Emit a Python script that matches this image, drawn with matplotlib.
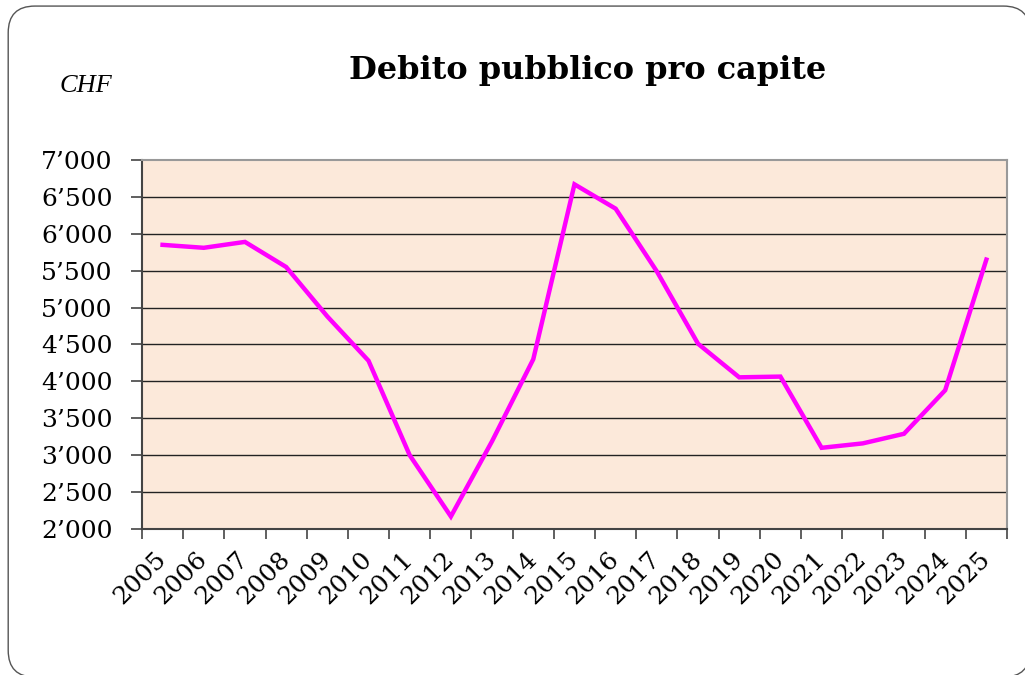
import matplotlib
matplotlib.use("Agg")
import matplotlib.pyplot as plt
from matplotlib.patches import FancyBboxPatch
from matplotlib.ticker import FuncFormatter
import numpy as np

years = [str(y) for y in range(2005, 2026)]
debt_per_capita = [5850, 5810, 5890, 5550, 4880, 4280, 3000, 2170, 3190, 4300,
                   6670, 6340, 5490, 4510, 4055, 4065, 3100, 3160, 3290, 3880, 5650]
y_ticks = list(range(2000, 7001, 500))

fig = plt.figure(figsize=(10.25, 6.75), dpi=100)

# rounded frame round the whole chart (right and bottom edges run off the picture)
frame = FancyBboxPatch((0.008, -0.003), 0.997, 0.994,
                       boxstyle="round,pad=0,rounding_size=0.026",
                       transform=fig.transFigure, facecolor="white",
                       edgecolor="#555555", linewidth=1.0, zorder=-1,
                       mutation_aspect=1025 / 675)
fig.patches.append(frame)

ax = fig.add_axes([0.1385, 0.2163, 0.8439, 0.5467])
ax.set_facecolor("#fce9da")

x = np.arange(len(years))
ax.plot(x, debt_per_capita, color="#ff00ff", linewidth=3.2, solid_joinstyle="miter", zorder=3)

ax.set_xlim(-0.5, len(years) - 0.5)
ax.set_ylim(2000, 7000)

ax.set_yticks(y_ticks)
ax.yaxis.set_major_formatter(FuncFormatter(lambda v, p: f"{int(v):,}".replace(",", "\u2019")))
for v in y_ticks[1:-1]:
    ax.axhline(v, color="#222222", linewidth=1.0, zorder=1)

ax.set_xticks(x)
ax.set_xticklabels(years, rotation=45, ha="right", va="center", rotation_mode="anchor")
ax.set_xticks(np.arange(-0.5, len(years)), minor=True)
ax.tick_params(axis="x", which="major", length=0, pad=19)
ax.tick_params(axis="x", which="minor", length=7, width=1.2, color="#444444", direction="out")
ax.tick_params(axis="y", length=8, width=1.2, color="#444444", pad=13)

for lab in ax.get_xticklabels() + ax.get_yticklabels():
    lab.set_fontfamily("DejaVu Serif")
    lab.set_fontsize(18)

ax.spines["left"].set_color("#444444")
ax.spines["bottom"].set_color("#444444")
ax.spines["left"].set_linewidth(1.5)
ax.spines["bottom"].set_linewidth(1.5)
ax.spines["top"].set_color("#999999")
ax.spines["right"].set_color("#999999")
ax.spines["top"].set_linewidth(1.5)
ax.spines["right"].set_linewidth(1.5)

fig.text(0.573, 0.896, "Debito pubblico pro capite", ha="center", va="center",
         fontfamily="DejaVu Serif", fontweight="bold", fontsize=23)
fig.text(0.058, 0.873, "CHF", ha="left", va="center",
         fontfamily="Liberation Serif", fontstyle="italic", fontsize=19)

fig.savefig("out.png", dpi=100)
